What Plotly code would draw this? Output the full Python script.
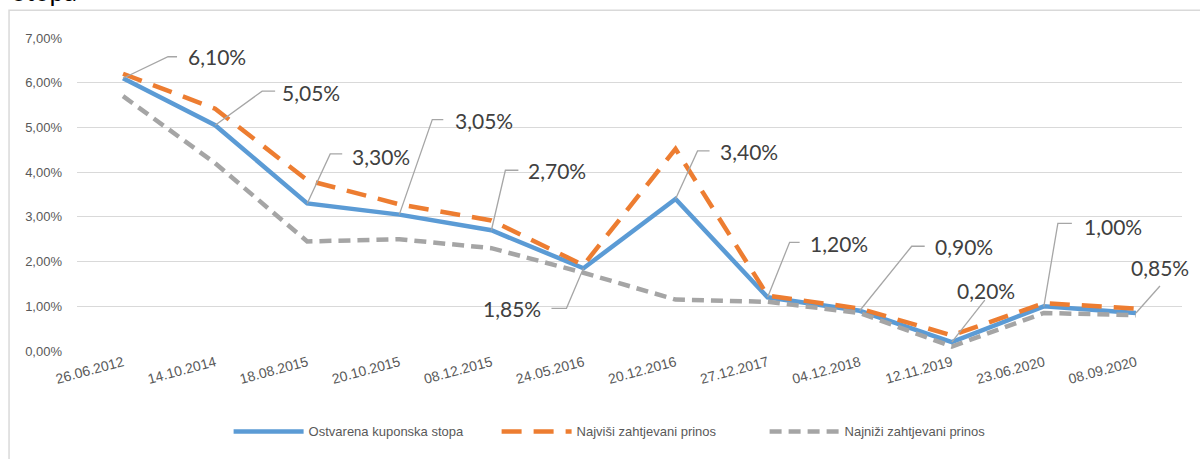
import plotly.graph_objects as go

categories = ["26.06.2012", "14.10.2014", "18.08.2015", "20.10.2015", "08.12.2015", "24.05.2016",
              "20.12.2016", "27.12.2017", "04.12.2018", "12.11.2019", "23.06.2020", "08.09.2020"]
ostvarena = [6.10, 5.05, 3.30, 3.05, 2.70, 1.85, 3.40, 1.20, 0.90, 0.20, 1.00, 0.85]
najvisi = [6.20, 5.42, 3.82, 3.28, 2.92, 1.92, 4.52, 1.24, 0.95, 0.35, 1.07, 0.95]
najnizi = [5.70, 4.20, 2.45, 2.50, 2.30, 1.75, 1.15, 1.10, 0.85, 0.10, 0.85, 0.80]
y_ticks = [0, 1, 2, 3, 4, 5, 6, 7]

# label leader layout (pixel offsets from the point, y up): path points, text offset, text anchor
label_layout = [
    ([(45, 21.5), (54, 21.5)], (63, 21.5), "left"),
    ([(47, 34), (60, 34)], (65, 33), "left"),
    ([(23, 49.5), (35, 49.5)], (43, 47), "left"),
    ([(33, 95), (44, 95)], (54, 94), "left"),
    ([(14, 60), (27, 60)], (35, 59.5), "left"),
    ([(-17, -40), (-32, -40)], (-40, -40), "right"),
    ([(22, 48), (34, 48)], (42, 47), "left"),
    ([(22, 55), (32, 55)], (40, 54), "left"),
    ([(52, 64.5), (65, 64.5)], (73, 64.5), "left"),
    ([(33, 42)], (34, 52), "center"),
    ([(14, 83), (28, 83)], (38, 80), "left"),
    ([(24, 27)], (24, 45), "center"),
]

xs = list(range(len(categories)))
tick_font = dict(family="Liberation Sans Narrow, Arial Narrow, Liberation Sans, Arial", size=13, color="#595959")

fig = go.Figure()
fig.add_trace(go.Scatter(x=xs, y=ostvarena, mode="lines", name="Ostvarena kuponska stopa",
                         line=dict(color="#5B9BD5", width=4.5)))
fig.add_trace(go.Scatter(x=xs, y=najvisi, mode="lines", name="Najviši zahtjevani prinos",
                         line=dict(color="#ED7D31", width=4.5, dash="20px,12px")))
fig.add_trace(go.Scatter(x=xs, y=najnizi, mode="lines", name="Najniži zahtjevani prinos",
                         line=dict(color="#A5A5A5", width=4.5, dash="12px,7px")))

shapes = []
annotations = []
for i, v in enumerate(ostvarena):
    pts, (tx, ty), anchor = label_layout[i]
    path = "M0,0 " + " ".join(f"L{px},{py}" for px, py in pts)
    shapes.append(dict(type="path", xref="x", yref="y", xsizemode="pixel", ysizemode="pixel",
                       xanchor=xs[i], yanchor=v, path=path,
                       line=dict(color="#A6A6A6", width=1.3)))
    annotations.append(dict(x=xs[i], y=v, xref="x", yref="y", text=f"{v:.2f}%".replace(".", ","),
                            showarrow=False, xanchor=anchor, yanchor="middle", xshift=tx, yshift=ty,
                            font=dict(family="Lato, Open Sans, sans-serif", size=21, color="#404040")))

# outer frame
shapes.append(dict(type="path", xref="paper", yref="paper",
                   path="M-0.0615,-0.6 L-0.0615,1.089 L1.2,1.089", line=dict(color="#D9D9D9", width=1.5)))
# partially visible heading above the frame
annotations.append(dict(x=-0.0606, y=1.093, xref="paper", yref="paper", text="Stopa", showarrow=False,
                        xanchor="left", yanchor="bottom",
                        font=dict(family="Lato, sans-serif", size=26, color="#000000")))

fig.update_layout(
    width=1200, height=459,
    margin=dict(l=77, r=18, t=38, b=106),
    paper_bgcolor="white", plot_bgcolor="white",
    showlegend=True,
    legend=dict(orientation="h", x=0.501, xanchor="center", y=-0.257, yanchor="middle",
                font=dict(tick_font, size=13), itemwidth=70, entrywidth=183, entrywidthmode="pixels",
                tracegroupgap=0),
    shapes=shapes, annotations=annotations,
    xaxis=dict(range=[-0.5, len(categories) - 0.5], tickvals=xs, ticktext=categories, tickangle=-15,
               showgrid=False, zeroline=False, showline=False, ticks="", automargin=False,
               tickfont=dict(tick_font, size=14)),
    yaxis=dict(range=[0, 7], tickvals=y_ticks, ticktext=[f"{t:.2f}%".replace(".", ",") for t in y_ticks],
               showgrid=True, gridcolor="#D9D9D9", gridwidth=1.3, zeroline=False, showline=False,
               ticks="", ticklabelstandoff=14, tickfont=tick_font, automargin=False),
)

fig.write_html("out.html", config={"displayModeBar": False},
               post_script="document.body.style.margin='0px';")
